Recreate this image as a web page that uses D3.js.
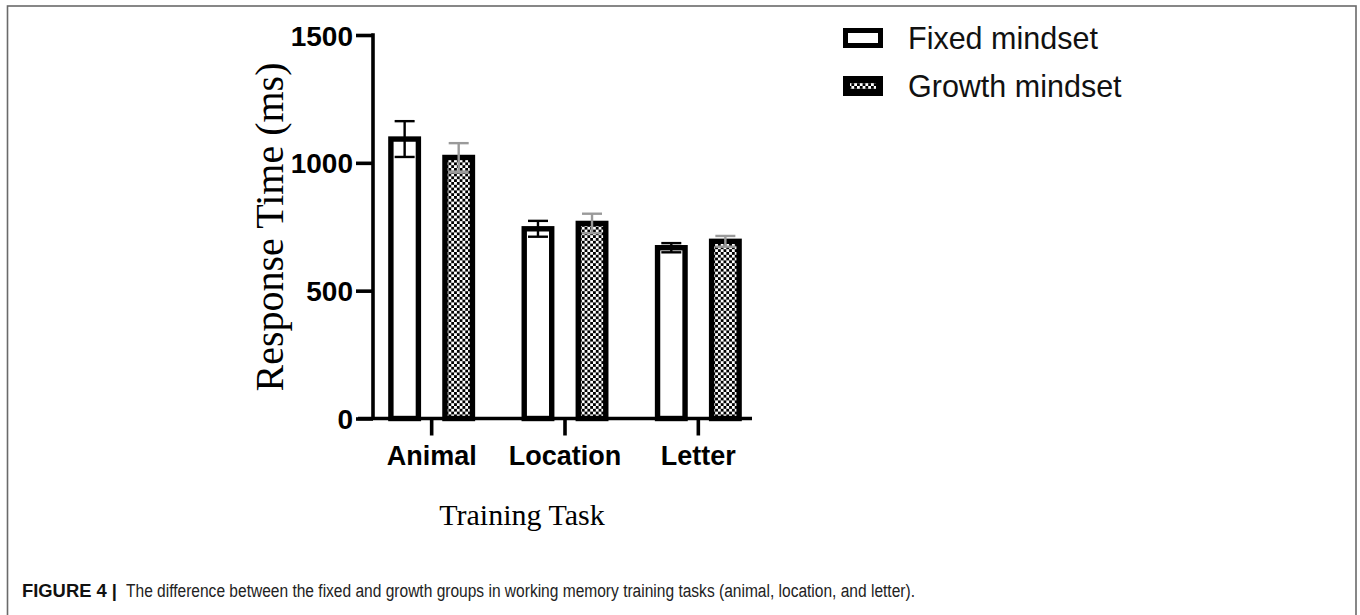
<!DOCTYPE html>
<html>
<head>
<meta charset="utf-8">
<script src="https://cdn.jsdelivr.net/npm/d3@7/dist/d3.min.js"></script>
<style>
  html, body { margin: 0; padding: 0; background: #fff; }
  svg { display: block; }
</style>
</head>
<body>
<svg id="chart" width="1360" height="615"></svg>
<script>
// ---- data ----
const categories = ["Animal", "Location", "Letter"];
const seriesNames = ["Fixed mindset", "Growth mindset"];
const fixedMeans = [1093, 742, 668];
const fixedErrors = [70, 31, 18];
const growthMeans = [1021, 763, 693];
const growthErrors = [56, 38, 21];
const yTicks = [0, 500, 1000, 1500];
const yTitle = "Response Time (ms)";
const xTitle = "Training Task";
const captionBold = "FIGURE 4 |";
const captionText = "The difference between the fixed and growth groups in working memory training tasks (animal, location, and letter).";

const svg = d3.select("#chart");

// frame
svg.append("rect")
  .attr("x", 7.5).attr("y", 6).attr("width", 1348.5).attr("height", 660)
  .attr("fill", "none").attr("stroke", "#6a6a6a").attr("stroke-width", 1.6);

// pattern
const defs = svg.append("defs");
const pat = defs.append("pattern").attr("id", "checker")
  .attr("patternUnits", "userSpaceOnUse").attr("width", 5.6).attr("height", 5.6);
pat.append("rect").attr("width", 5.6).attr("height", 5.6).attr("fill", "#fff");
pat.append("rect").attr("x", 0).attr("y", 0).attr("width", 2.8).attr("height", 2.8).attr("fill", "#000");
pat.append("rect").attr("x", 2.8).attr("y", 2.8).attr("width", 2.8).attr("height", 2.8).attr("fill", "#000");

// scales
const y = d3.scaleLinear().domain([0, 1500]).range([418.5, 35]);
const x = d3.scaleBand().domain(categories).range([365, 765]).padding(0);
const sub = d3.scaleBand().domain(seriesNames).range([-50, 50]).paddingInner(0.35).paddingOuter(0.1);

const axisW = 3.6;

// y axis
const yAxis = svg.append("g").attr("transform", "translate(373,0)")
  .call(d3.axisLeft(y).tickValues(yTicks).tickSize(17).tickSizeOuter(0).tickPadding(3).tickFormat(d3.format("d")));
yAxis.select(".domain").attr("stroke", "#000").attr("stroke-width", axisW)
  .attr("d", `M0,${y(0)}V${y(1500) - axisW/2}`);
yAxis.selectAll(".tick line").attr("stroke", "#000").attr("stroke-width", axisW);
yAxis.selectAll(".tick text")
  .attr("font-family", "Liberation Sans, Arial, sans-serif")
  .attr("font-weight", "bold").attr("font-size", 28).attr("fill", "#000")
  .attr("dy", "0.36em");

// bars
const groups = svg.append("g").selectAll("g").data(categories).join("g")
  .attr("transform", d => `translate(${x(d) + x.bandwidth()/2},0)`);

const bw = 27.5;
const stroke = 5.4;
function barData(i) {
  return [
    {name: seriesNames[0], v: fixedMeans[i], e: fixedErrors[i], fill: "#fff", ec: "#000"},
    {name: seriesNames[1], v: growthMeans[i], e: growthErrors[i], fill: "url(#checker)", ec: "#9a9a9a"}
  ];
}
groups.each(function(d, i) {
  const g = d3.select(this);
  const bd = barData(i);
  g.selectAll("rect.bar").data(bd).join("rect").attr("class", "bar")
    .attr("x", b => sub(b.name) + sub.bandwidth()/2 - bw/2)
    .attr("width", bw)
    .attr("y", b => y(b.v))
    .attr("height", b => y(0) - y(b.v))
    .attr("fill", b => b.fill)
    .attr("stroke", "#000").attr("stroke-width", stroke);
  const eb = g.selectAll("g.err").data(bd).join("g").attr("class", "err")
    .attr("transform", b => `translate(${sub(b.name) + sub.bandwidth()/2},0)`);
  eb.append("line").attr("x1", 0).attr("x2", 0)
    .attr("y1", b => y(b.v + b.e)).attr("y2", b => y(b.v - b.e))
    .attr("stroke", b => b.ec).attr("stroke-width", 2.4);
  eb.append("line").attr("x1", -10).attr("x2", 10)
    .attr("y1", b => y(b.v + b.e)).attr("y2", b => y(b.v + b.e))
    .attr("stroke", b => b.ec).attr("stroke-width", 2.4);
  eb.append("line").attr("x1", -10).attr("x2", 10)
    .attr("y1", b => y(b.v - b.e)).attr("y2", b => y(b.v - b.e))
    .attr("stroke", b => b.ec).attr("stroke-width", 2.4);
});

// x axis
const xAxis = svg.append("g").attr("transform", `translate(0,${y(0)})`)
  .call(d3.axisBottom(x).tickSize(17).tickSizeOuter(0).tickPadding(10));
xAxis.select(".domain").attr("stroke", "#000").attr("stroke-width", axisW)
  .attr("d", "M358,0H752");
xAxis.selectAll(".tick line").attr("stroke", "#000").attr("stroke-width", axisW);
xAxis.selectAll(".tick text")
  .attr("font-family", "Liberation Sans, Arial, sans-serif")
  .attr("font-weight", "bold").attr("font-size", 27).attr("fill", "#000")
  .attr("dy", "0.71em");

// axis titles
svg.append("text")
  .attr("transform", `translate(283,227) rotate(-90)`)
  .attr("text-anchor", "middle")
  .attr("font-family", "Liberation Serif, 'Times New Roman', serif")
  .attr("font-size", 40).attr("fill", "#000")
  .text(yTitle);
svg.append("text")
  .attr("x", 522).attr("y", 525)
  .attr("text-anchor", "middle")
  .attr("font-family", "Liberation Serif, 'Times New Roman', serif")
  .attr("font-size", 30).attr("fill", "#000")
  .text(xTitle);

// legend
const legend = svg.append("g");
const legendY = [38, 86];
seriesNames.forEach((s, i) => {
  const row = legend.append("g").attr("transform", `translate(843,${legendY[i]})`);
  if (i === 0) {
    row.append("rect").attr("x", 2.5).attr("y", -7.5).attr("width", 35).attr("height", 15)
      .attr("fill", "#fff").attr("stroke", "#000").attr("stroke-width", 5);
  } else {
    row.append("rect").attr("x", 3.5).attr("y", -6.5).attr("width", 33).attr("height", 13)
      .attr("fill", "url(#checker)").attr("stroke", "#000").attr("stroke-width", 7);
  }
  row.append("text").attr("x", 65).attr("y", 0).attr("dy", "0.36em")
    .attr("font-family", "Liberation Sans, Arial, sans-serif")
    .attr("font-size", 30.5).attr("fill", "#111")
    .text(s);
});

// caption
svg.append("text").attr("x", 22).attr("y", 597)
  .attr("font-family", "Liberation Sans Narrow, Liberation Sans, Arial, sans-serif")
  .attr("font-weight", "bold").attr("font-size", 18).attr("fill", "#111")
  .attr("textLength", 95).attr("lengthAdjust", "spacingAndGlyphs")
  .text(captionBold);
svg.append("text").attr("x", 126).attr("y", 597)
  .attr("font-family", "Liberation Sans Narrow, Liberation Sans, Arial, sans-serif")
  .attr("font-size", 18).attr("fill", "#222")
  .attr("textLength", 789).attr("lengthAdjust", "spacingAndGlyphs")
  .text(captionText);
</script>
</body>
</html>
